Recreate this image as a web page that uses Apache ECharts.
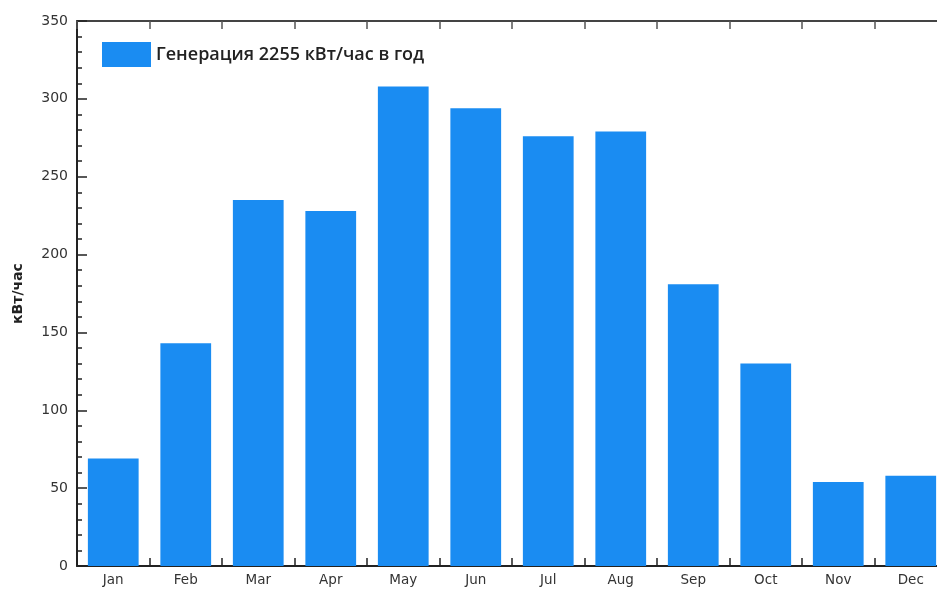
<!DOCTYPE html>
<html><head><meta charset="utf-8">
<script src="https://cdn.jsdelivr.net/npm/echarts@6/dist/echarts.min.js"></script>
<style>html,body{margin:0;padding:0;overflow:hidden;background:#fff}#c{width:950px;height:590px}</style>
</head><body><div id="c"></div>
<script>
const months = ['Jan','Feb','Mar','Apr','May','Jun','Jul','Aug','Sep','Oct','Nov','Dec'];
const generation = [69,143,235,228,308,294,276,279,181,130,54,58];
const seriesName = 'Генерация 2255 кВт/час в год';
const yTitle = 'кВт/час';

const chart = echarts.init(document.getElementById('c'), null, {renderer:'canvas'});
const axisLine = {show:true, onZero:false, lineStyle:{color:'#222', width:2}};
const fontFam = '"DejaVu Sans", Verdana, sans-serif';
chart.setOption({
  animation:false,
  grid:{left:77, right:3, top:21, bottom:24},
  legend:{show:true, left:97, top:37, itemWidth:49, itemHeight:25, itemGap:4,
    textStyle:{fontFamily:'"Open Sans", sans-serif', fontWeight:600, fontSize:18, color:'#222'},
    icon:'rect', data:[seriesName]},
  xAxis:[
    {type:'category', data:months, position:'bottom',
     axisLine:axisLine,
     axisTick:{show:true, inside:true, length:8, lineStyle:{color:'#222', width:1.5}},
     axisLabel:{fontFamily:fontFam, fontSize:13.5, color:'#333', margin:7}},
    {type:'category', data:months, position:'top',
     axisLine:{show:true, onZero:false, lineStyle:{color:'#444', width:2}},
     axisTick:{show:true, inside:true, length:8, lineStyle:{color:'#555', width:1.5}},
     axisLabel:{show:false}}
  ],
  yAxis:[
    {type:'value', min:0, max:350, interval:50, position:'left',
     name:yTitle, nameLocation:'middle', nameGap:52, nameRotate:90,
     nameTextStyle:{fontFamily:fontFam, fontSize:14, color:'#222', fontWeight:'bold'},
     axisLine:axisLine,
     axisTick:{show:true, inside:true, length:10, lineStyle:{color:'#222', width:1.5}},
     minorTick:{show:true, splitNumber:5, length:5, lineStyle:{color:'#222', width:1.5}},
     splitLine:{show:false},
     axisLabel:{fontFamily:fontFam, fontSize:14, color:'#333', margin:9}},
    {type:'value', min:0, max:350, interval:50, position:'right',
     axisLine:axisLine,
     axisTick:{show:true, inside:true, length:10},
     splitLine:{show:false}, axisLabel:{show:false}}
  ],
  series:[{name:seriesName, type:'bar', data:generation, barCategoryGap:'30%',
    itemStyle:{color:'#1a8cf2'}}]
});
</script></body></html>
